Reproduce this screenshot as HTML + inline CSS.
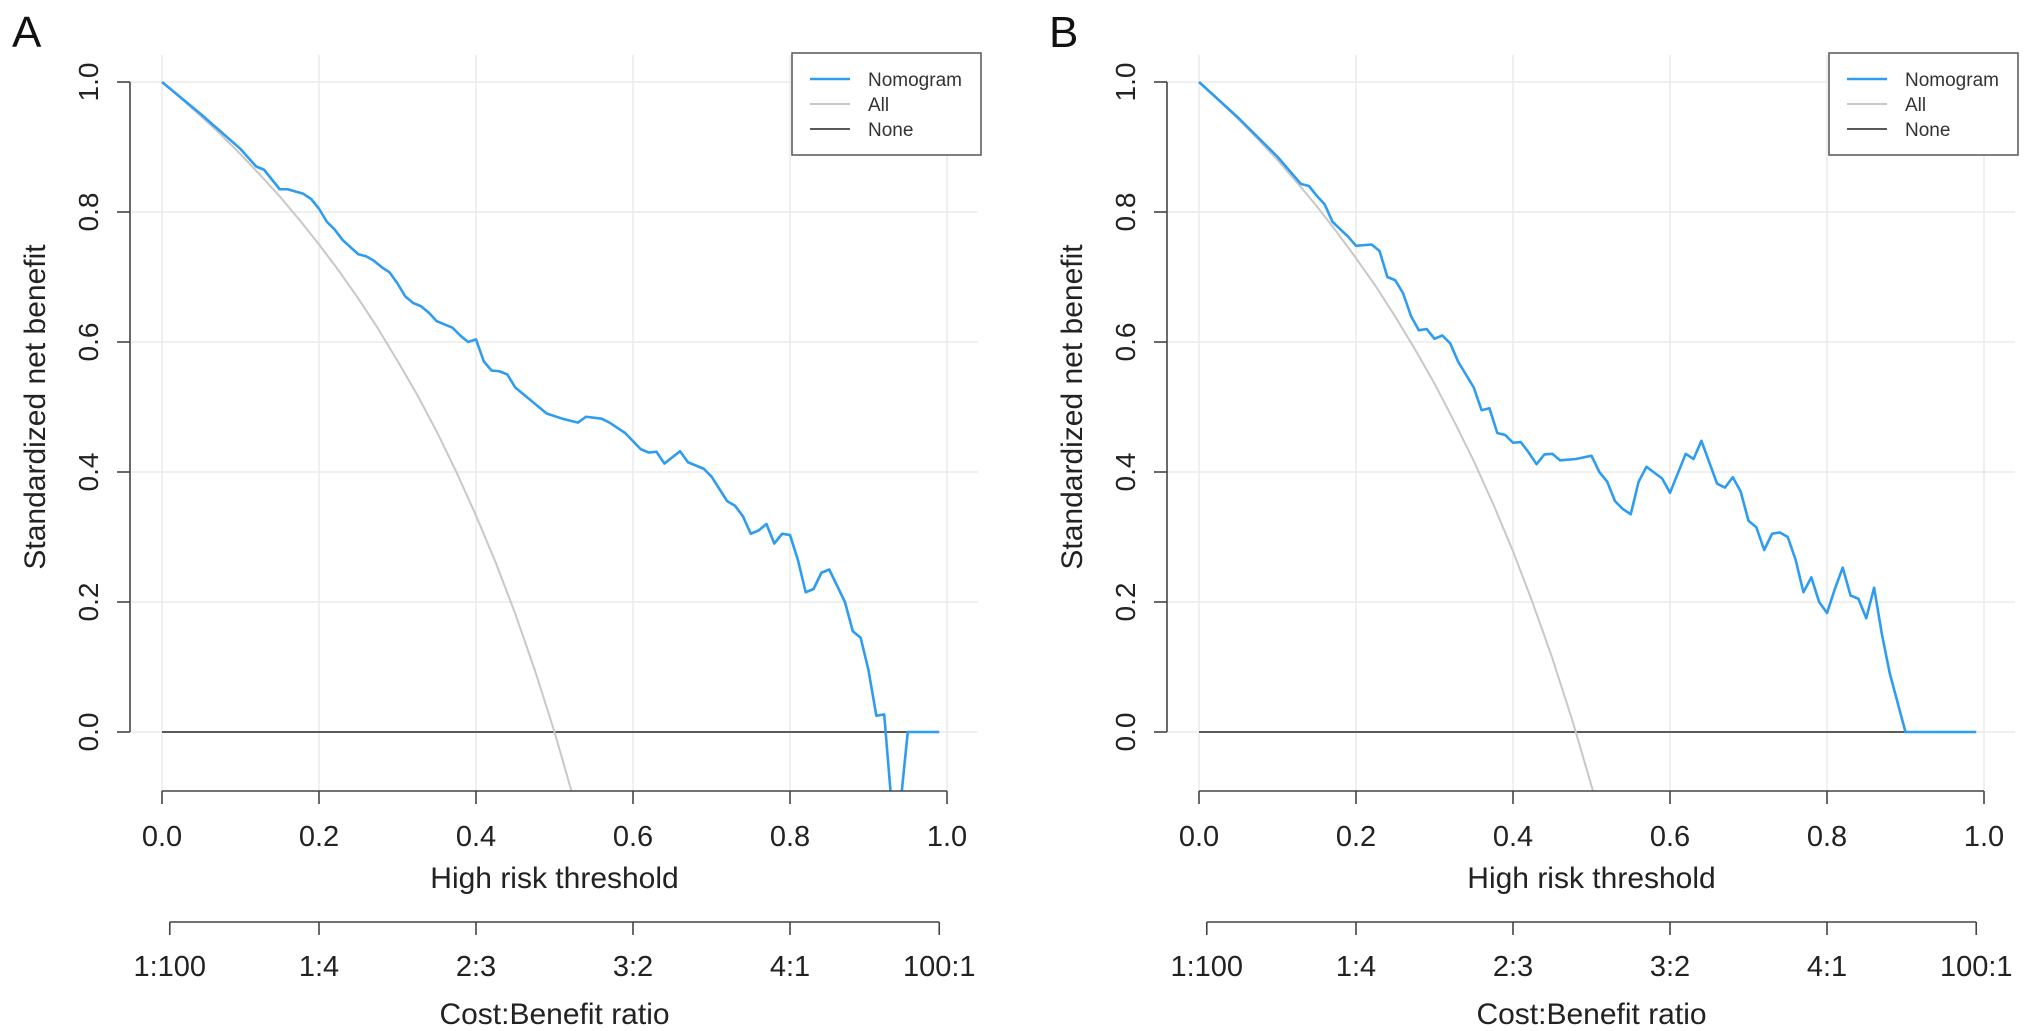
<!DOCTYPE html>
<html><head><meta charset="utf-8"><style>
html,body{margin:0;padding:0;background:#fff;}
svg{display:block;font-family:"Liberation Sans",Arial,sans-serif;}
</style></head><body>
<svg id="fig" width="2032" height="1031" viewBox="0 0 2032 1031" xmlns="http://www.w3.org/2000/svg"></svg>
<script>
const thrTicks=[0,0.2,0.4,0.6,0.8,1.0];
const thrTickLabels=["0.0","0.2","0.4","0.6","0.8","1.0"];
const yTicks=[0,0.2,0.4,0.6,0.8,1.0];
const yTickLabels=["0.0","0.2","0.4","0.6","0.8","1.0"];
const cbTicks=[0.0099,0.2,0.4,0.6,0.8,0.9901];
const cbTickLabels=["1:100","1:4","2:3","3:2","4:1","100:1"];
const panelLetters=["A","B"];

const nomoA_t=[0,0.05,0.1,0.12,0.13,0.15,0.16,0.18,0.19,0.2,0.21,0.22,0.23,0.25,0.26,0.27,0.28,0.29,0.3,0.31,0.32,0.33,0.34,0.35,0.37,0.38,0.39,0.4,0.41,0.42,0.43,0.44,0.45,0.47,0.49,0.51,0.53,0.54,0.56,0.57,0.59,0.61,0.62,0.63,0.64,0.66,0.67,0.69,0.7,0.72,0.73,0.74,0.75,0.76,0.77,0.78,0.79,0.8,0.81,0.82,0.83,0.84,0.85,0.87,0.88,0.89,0.9,0.91,0.92,0.93,0.94,0.95,0.99];
const nomoA_v=[1.0,0.95,0.897,0.87,0.865,0.835,0.835,0.828,0.82,0.805,0.785,0.773,0.757,0.735,0.732,0.725,0.715,0.707,0.69,0.67,0.66,0.655,0.645,0.632,0.622,0.61,0.6,0.604,0.57,0.556,0.555,0.55,0.53,0.51,0.49,0.482,0.476,0.485,0.482,0.476,0.46,0.435,0.43,0.431,0.413,0.432,0.415,0.405,0.393,0.355,0.348,0.332,0.305,0.31,0.32,0.29,0.305,0.303,0.265,0.215,0.22,0.245,0.25,0.2,0.155,0.145,0.095,0.025,0.027,-0.12,-0.12,0,0];
const allA_t=[0,0.025,0.05,0.075,0.1,0.125,0.15,0.175,0.2,0.225,0.25,0.275,0.3,0.325,0.35,0.375,0.4,0.425,0.45,0.475,0.5,0.525];
const allA_v=[1,0.974,0.947,0.919,0.889,0.857,0.824,0.788,0.75,0.71,0.667,0.621,0.571,0.519,0.462,0.4,0.333,0.261,0.182,0.095,0,-0.105];

const nomoB_t=[0,0.05,0.1,0.13,0.14,0.15,0.16,0.17,0.19,0.2,0.22,0.23,0.24,0.25,0.26,0.27,0.28,0.29,0.3,0.31,0.32,0.33,0.34,0.35,0.36,0.37,0.38,0.39,0.4,0.41,0.42,0.43,0.44,0.45,0.46,0.48,0.5,0.51,0.52,0.53,0.54,0.55,0.56,0.57,0.59,0.6,0.62,0.63,0.64,0.66,0.67,0.68,0.69,0.7,0.71,0.72,0.73,0.74,0.75,0.76,0.77,0.78,0.79,0.8,0.81,0.82,0.83,0.84,0.85,0.86,0.87,0.88,0.89,0.9,0.99];
const nomoB_v=[1.0,0.945,0.885,0.843,0.84,0.825,0.812,0.785,0.762,0.748,0.75,0.74,0.7,0.695,0.675,0.64,0.618,0.62,0.605,0.61,0.598,0.57,0.55,0.53,0.495,0.498,0.46,0.457,0.445,0.446,0.43,0.412,0.427,0.428,0.418,0.42,0.425,0.4,0.385,0.355,0.343,0.335,0.385,0.408,0.39,0.368,0.428,0.42,0.448,0.382,0.376,0.392,0.37,0.325,0.315,0.28,0.305,0.307,0.3,0.265,0.215,0.238,0.2,0.183,0.22,0.253,0.21,0.205,0.175,0.222,0.15,0.09,0.045,0.0,0];
const allB_t=[0,0.025,0.05,0.075,0.1,0.125,0.15,0.175,0.2,0.225,0.25,0.275,0.3,0.325,0.35,0.375,0.4,0.425,0.45,0.475,0.48,0.5,0.505];
const allB_v=[1,0.972,0.943,0.912,0.88,0.845,0.809,0.77,0.729,0.686,0.639,0.589,0.536,0.478,0.417,0.35,0.278,0.199,0.114,0.02,0,-0.083,-0.105];
const none_t=[0,0.99];
const none_v=[0,0];

const NS="http://www.w3.org/2000/svg";
const svg=document.getElementById('fig');
function mk(tag,attrs,parent){const e=document.createElementNS(NS,tag);for(const k in attrs)e.setAttribute(k,attrs[k]);(parent||svg).appendChild(e);return e;}

function panel(off,idx,nt,nv,at,av){
  const X=t=>off+162+t*785;
  const Y=v=>732-v*650;
  const g=mk('g',{});
  
  
  const cid='clip'+idx;
  const cp=mk('clipPath',{id:cid},g);mk('rect',{x:off+131,y:55,width:847,height:736},cp);
  // grid
  thrTicks.forEach((t,i)=>{const l=mk('line',{x1:X(t),x2:X(t),y1:55,y2:791,stroke:'#ebebeb','stroke-width':1.5},g);
    });
  yTicks.forEach((v,i)=>{const l=mk('line',{x1:off+131,x2:off+978,y1:Y(v),y2:Y(v),stroke:'#ebebeb','stroke-width':1.5},g);
    });
  const cg=mk('g',{'clip-path':'url(#'+cid+')'},g);
  const path=(ts,vs,col,w,name)=>{const p=mk('polyline',{points:ts.map((t,i)=>X(t)+','+Y(vs[i])).join(' '),fill:'none',stroke:col,'stroke-width':w,'stroke-linejoin':'round'},cg);
    };
  path(none_t,none_v,'#5a5a5a',2,'none-line');
  path(at,av,'#c8c8c8',2,'all-line');
  path(nt,nv,'#2e9cf0',2.6,'nomogram-line');
  // y axis
  const ya=mk('g',{},g);
  mk('line',{x1:off+130,x2:off+130,y1:Y(0),y2:Y(1),stroke:'#444','stroke-width':1.6},ya);
  yTicks.forEach((v,i)=>{mk('line',{x1:off+117,x2:off+130,y1:Y(v),y2:Y(v),stroke:'#444','stroke-width':1.6},ya);
    const tx=mk('text',{x:off+98,y:Y(v),'font-size':28,fill:'#222','text-anchor':'middle',transform:`rotate(-90 ${off+98} ${Y(v)})`},ya);tx.textContent=yTickLabels[i];
    });
  const yt=mk('text',{x:off+45,y:407,'font-size':30,fill:'#222','text-anchor':'middle',transform:`rotate(-90 ${off+45} 407)`},g);
  yt.textContent='Standardized net benefit';
  // x axis
  const xa=mk('g',{},g);
  mk('line',{x1:X(0),x2:X(1),y1:791,y2:791,stroke:'#444','stroke-width':1.6},xa);
  thrTicks.forEach((t,i)=>{mk('line',{x1:X(t),x2:X(t),y1:791,y2:804,stroke:'#444','stroke-width':1.6},xa);
    const tx=mk('text',{x:X(t),y:846,'font-size':29,fill:'#222','text-anchor':'middle'},xa);tx.textContent=thrTickLabels[i];
    });
  const xt=mk('text',{x:X(0.5),y:888,'font-size':30,fill:'#222','text-anchor':'middle'},g);
  xt.textContent='High risk threshold';
  // cost benefit axis
  const ca=mk('g',{},g);
  mk('line',{x1:X(cbTicks[0]),x2:X(cbTicks[5]),y1:922,y2:922,stroke:'#444','stroke-width':1.6},ca);
  cbTicks.forEach((t,i)=>{mk('line',{x1:X(t),x2:X(t),y1:922,y2:935,stroke:'#444','stroke-width':1.6},ca);
    const tx=mk('text',{x:X(t),y:976,'font-size':29,fill:'#222','text-anchor':'middle'},ca);tx.textContent=cbTickLabels[i];
    });
  const ct=mk('text',{x:X(0.5),y:1024,'font-size':30,fill:'#222','text-anchor':'middle'},g);
  ct.textContent='Cost:Benefit ratio';
  // legend
  const lg=mk('g',{},g);
  mk('rect',{x:off+792,y:53,width:189,height:102,fill:'#fff',stroke:'#555','stroke-width':1.5},lg);
  const items=[['Nomogram','#2e9cf0',2.6],['All','#c8c8c8',2],['None','#5a5a5a',2]];
  items.forEach((it,i)=>{const yy=79+i*25;
    const e=mk('g',{},lg);
    mk('line',{x1:off+810,x2:off+850,y1:yy,y2:yy,stroke:it[1],'stroke-width':it[2]},e);
    const tx=mk('text',{x:off+868,y:yy+7,'font-size':19,fill:'#333'},e);tx.textContent=it[0];});
  const pl=mk('text',{x:off+12,y:47,'font-size':44,fill:'#111'},g);pl.textContent=panelLetters[idx];
  
}
panel(0,0,nomoA_t,nomoA_v,allA_t,allA_v);
panel(1037,1,nomoB_t,nomoB_v,allB_t,allB_v);
</script>
</body></html>
